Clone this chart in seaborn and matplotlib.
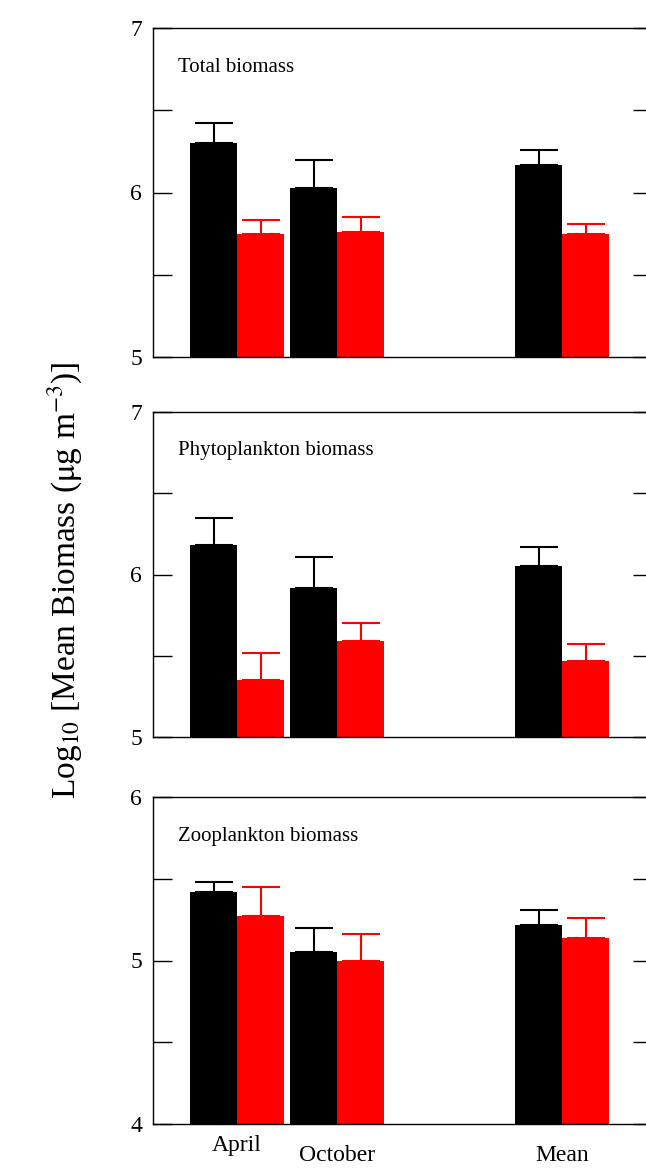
import matplotlib
matplotlib.use("Agg")
import matplotlib.pyplot as plt
import numpy as np
import seaborn as sns

sns.set_theme(style="white")
plt.rcParams["font.family"] = ["Liberation Serif", "DejaVu Serif"]
plt.rcParams["mathtext.fontset"] = "stix"
plt.rcParams["text.color"] = "black"
plt.rcParams["ytick.color"] = "black"

POSITIONS = [0.0, 1.0, 3.25]
CATEGORIES = ["April", "October", "Mean"]
GROUPS = ["A", "B"]
COLORS = {"A": "black", "B": "#ff0000"}

TITLES = ["Total biomass", "Phytoplankton biomass", "Zooplankton biomass"]
YLIMS = [(5, 7), (5, 7), (4, 6)]
MEANS_A = [[6.30, 6.03, 6.17], [6.18, 5.92, 6.05], [5.42, 5.05, 5.22]]
MEANS_B = [[5.75, 5.76, 5.75], [5.35, 5.59, 5.47], [5.27, 5.00, 5.14]]
ERR_A = [[0.12, 0.17, 0.09], [0.17, 0.19, 0.12], [0.06, 0.15, 0.09]]
ERR_B = [[0.08, 0.09, 0.06], [0.17, 0.11, 0.10], [0.18, 0.16, 0.12]]

W, H = 646, 1171
fig = plt.figure(figsize=(W / 100, H / 100), dpi=100)
panel_px = [(28, 357), (412, 737), (797, 1124)]
left_px, right_px = 153, 652
BAR_W = 0.47

for i, (top, bot) in enumerate(panel_px):
    ax = fig.add_axes([left_px / W, 1 - bot / H, (right_px - left_px) / W, (bot - top) / H])
    lo = YLIMS[i][0]
    for grp, means, errs, off in zip(GROUPS, (MEANS_A[i], MEANS_B[i]), (ERR_A[i], ERR_B[i]),
                                      (-BAR_W / 2, BAR_W / 2)):
        x = np.array(POSITIONS) + off
        m = np.array(means)
        ax.bar(x, m - lo, bottom=lo, width=BAR_W, color=COLORS[grp], edgecolor="none")
        ax.errorbar(x, m, yerr=[np.zeros(len(m)), errs], fmt="none",
                    ecolor=COLORS[grp], capsize=14, elinewidth=1.5, capthick=1.5)
    ax.set_xlim(-0.84, 4.15)
    ax.set_ylim(*YLIMS[i])
    ticks = np.arange(lo, lo + 2.01, 0.5)
    ax.set_yticks(ticks)
    ax.set_yticklabels([f"{t:.0f}" if t == int(t) else "" for t in ticks], fontsize=17)
    ax.tick_params(axis="y", direction="in", length=14, width=1, right=True, left=True, pad=8)
    ax.set_xticks([])
    for s in ax.spines.values():
        s.set_color("black")
        s.set_linewidth(1)
    ax.text(0.05, 0.88, TITLES[i], transform=ax.transAxes, fontsize=15, va="center")
    if i == 2:
        for pos, cat, dy in zip(POSITIONS, CATEGORIES, [-0.13, -0.19, -0.19]):
            ax.text(pos, lo + dy, cat, ha="center", va="center", fontsize=17, clip_on=False)

fig.text(65 / W, 1 - 580 / H, r"Log$_{10}$ [Mean Biomass ($\mathrm{\mu}$g m$^{-3}$)]",
         rotation=90, ha="center", va="center", fontsize=24)
fig.savefig("out.png", dpi=100)
